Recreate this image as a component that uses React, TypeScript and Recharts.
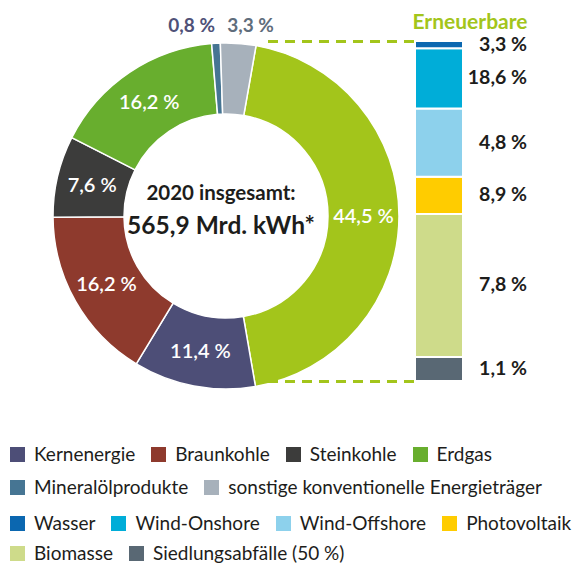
import React from 'react';
import { PieChart, Pie, Cell, BarChart, Bar, XAxis, YAxis } from 'recharts';

const sources = ['Erneuerbare', 'Kernenergie', 'Braunkohle', 'Steinkohle', 'Erdgas', 'Mineralölprodukte', 'sonstige konventionelle Energieträger'];
const shares = [44.5, 11.4, 16.2, 7.6, 16.2, 0.8, 3.3];
const shareLabels = ['44,5 %', '11,4 %', '16,2 %', '7,6 %', '16,2 %', '0,8 %', '3,3 %'];
const sourceColors = ['#a3c51b', '#4d4e77', '#8e3a2d', '#3c3c3b', '#68ae2e', '#467593', '#a7b1bb'];

const renewables = ['Wasser', 'Wind-Onshore', 'Wind-Offshore', 'Photovoltaik', 'Biomasse', 'Siedlungsabfälle (50 %)'];
const renewableLabels = ['3,3 %', '18,6 %', '4,8 %', '8,9 %', '7,8 %', '1,1 %'];
const renewableBarShares = [2.1, 17.8, 20.1, 10.9, 42.1, 7.1];
const renewableColors = ['#0b67b0', '#00add8', '#8dd1ec', '#ffcc00', '#cedb8a', '#596874'];

const legendRows = [
  ['Kernenergie', 'Braunkohle', 'Steinkohle', 'Erdgas'],
  ['Mineralölprodukte', 'sonstige konventionelle Energieträger'],
  ['Wasser', 'Wind-Onshore', 'Wind-Offshore', 'Photovoltaik'],
  ['Biomasse', 'Siedlungsabfälle (50 %)'],
];

const centerTitle = '2020 insgesamt:';
const centerValue = '565,9 Mrd. kWh*';
const barTitle = 'Erneuerbare';

const FONT = 'Lato, "Noto Sans", sans-serif';
const RADIAN = Math.PI / 180;

const pieData = sources.map((name, i) => ({ name, value: shares[i], label: shareLabels[i] }));
const barRow: Record<string, any> = { name: barTitle };
renewables.forEach((n, i) => { barRow[n] = renewableBarShares[i]; });
const barData = [barRow];

const colorOf = (name: string) => {
  const si = sources.indexOf(name);
  if (si >= 0) return sourceColors[si];
  return renewableColors[renewables.indexOf(name)];
};

const renderPieLabel = (props: any) => {
  const { cx, cy, midAngle, innerRadius, outerRadius, index } = props;
  const value = shares[index];
  if (value < 4) {
    // small slices: label outside above ring
    const mx = cx + outerRadius * Math.cos(-midAngle * RADIAN);
    const isLeft = mx < cx;
    return (
      <text x={isLeft ? mx - 1 : mx - 11} y={cy - outerRadius - 11} textAnchor={isLeft ? 'end' : 'start'}
        fill={isLeft ? '#4f5178' : '#5f6d7c'} fontFamily={FONT} fontWeight={700} fontSize={19}>
        {shareLabels[index]}
      </text>
    );
  }
  const r = (innerRadius + outerRadius) / 2;
  const x = cx + r * Math.cos(-midAngle * RADIAN);
  const y = cy + r * Math.sin(-midAngle * RADIAN);
  return (
    <text x={x} y={y} dy={7} textAnchor="middle" fill="#ffffff" fontFamily={FONT} fontWeight={600} fontSize={20}>
      {shareLabels[index]}
    </text>
  );
};

const makeBarLabel = (text: string) => (props: any) => {
  const { x, y, width, height } = props;
  return (
    <text x={Number(x) + Number(width) + 64} y={Number(y) + Number(height) / 2} dy={6} textAnchor="end"
      fill="#1d1d1b" fontFamily={FONT} fontWeight={700} fontSize={19.5}>
      {text}
    </text>
  );
};

export default function App() {
  const stackOrder = [...renewables].reverse();
  return (
    <div style={{ position: 'absolute', left: 0, top: 0, width: 582, height: 564, background: '#fff', fontFamily: FONT, overflow: 'hidden' }}>
      <div style={{ position: 'absolute', left: 0, top: 0 }}>
        <PieChart width={400} height={400}>
          <Pie data={pieData} dataKey="value" nameKey="name" cx={221} cy={211} innerRadius={102} outerRadius={173}
            startAngle={80} endAngle={-280} stroke="#ffffff" strokeWidth={1.5} isAnimationActive={false}
            label={renderPieLabel} labelLine={false}>
            {pieData.map((d) => (<Cell key={d.name} fill={colorOf(d.name)} />))}
          </Pie>
          <text x={221} y={200} textAnchor="middle" fill="#1d1d1b" fontFamily={FONT} fontWeight={700} fontSize={20.5}>{centerTitle}</text>
          <text x={221} y={234} textAnchor="middle" fill="#1d1d1b" fontFamily={FONT} fontWeight={700} fontSize={24.5}>{centerValue}</text>
        </PieChart>
      </div>
      <svg width={582} height={400} style={{ position: 'absolute', left: 0, top: 0, pointerEvents: 'none' }}>
        <line x1={268} y1={41.5} x2={414} y2={41.5} stroke="#a3c51b" strokeWidth={3} strokeDasharray="10 7" />
        <line x1={268} y1={381.5} x2={414} y2={381.5} stroke="#a3c51b" strokeWidth={3} strokeDasharray="10 7" />
        <text x={470} y={29} textAnchor="middle" fill="#a3c51b" fontFamily={FONT} fontWeight={700} fontSize={21}>{barTitle}</text>
      </svg>
      <div style={{ position: 'absolute', left: 400, top: 0 }}>
        <BarChart width={182} height={400} data={barData} margin={{ top: 41, bottom: 19, left: 15, right: 119 }} barCategoryGap={0}>
          <XAxis dataKey="name" hide />
          <YAxis hide domain={[0, 100]} />
          {stackOrder.map((n) => (
            <Bar key={n} dataKey={n} stackId="a" fill={colorOf(n)} stroke="#ffffff" strokeWidth={2}
              isAnimationActive={false} label={makeBarLabel(renewableLabels[renewables.indexOf(n)])} />
          ))}
        </BarChart>
      </div>
      {legendRows.map((row, ri) => (
        <div key={ri} style={{ position: 'absolute', left: 10, top: [441, 474, 510, 540][ri], display: 'flex', alignItems: 'center', height: 26, whiteSpace: 'nowrap' }}>
          {row.map((n) => (
            <div key={n} style={{ display: 'flex', alignItems: 'center', marginRight: 16 }}>
              <div style={{ width: 15, height: 15, background: colorOf(n), marginRight: 9 }} />
              <span style={{ fontSize: 19, lineHeight: '26px', color: '#1d1d1b', fontFamily: FONT }}>{n}</span>
            </div>
          ))}
        </div>
      ))}
    </div>
  );
}
